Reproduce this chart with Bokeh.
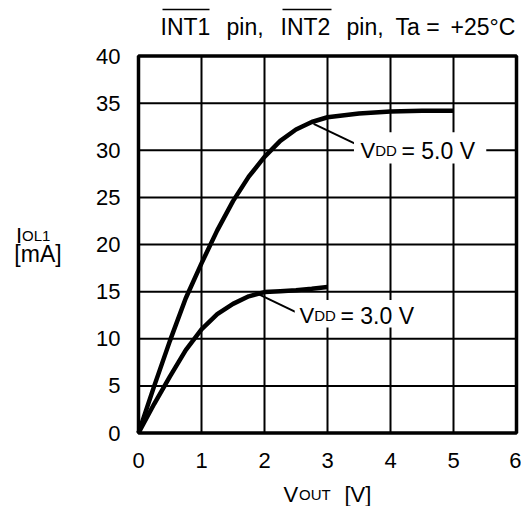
from bokeh.plotting import figure
from bokeh.models import Label, Range1d, FixedTicker
from bokeh.embed import file_html
from bokeh.resources import INLINE

# ---- data ----
vout_5v = [0, 0.25, 0.5, 0.75, 1.0, 1.25, 1.5, 1.75, 2.0, 2.25, 2.5, 2.75, 3.0, 3.5, 4.0, 4.5, 5.0]
iol_5v = [0, 5.0, 9.8, 14.3, 18.0, 21.5, 24.6, 27.2, 29.3, 31.0, 32.2, 33.0, 33.5, 33.9, 34.1, 34.2, 34.2]
vout_3v = [0, 0.25, 0.5, 0.75, 1.0, 1.25, 1.5, 1.75, 2.0, 2.25, 2.5, 2.75, 3.0]
iol_3v = [0, 3.1, 6.0, 8.8, 11.0, 12.6, 13.7, 14.5, 14.95, 15.05, 15.15, 15.3, 15.5]
x_ticks = [0, 1, 2, 3, 4, 5, 6]
y_ticks = [0, 5, 10, 15, 20, 25, 30, 35, 40]

FONT = "Liberation Sans"
BIG = "22px"
SMALL = "15px"

# canvas / placement (page pixels; the page has no margin around the canvas)
W, H = 521, 506
PX0, PXU = 138.0, 63.0      # page x of x=0, px per volt
PY0, PYU = 432.5, 9.425     # page y of y=0, px per mA
BASE_FIX = 6                # label baseline correction (px, upward)


def dx(px):
    return (px - PX0) / PXU


def dy(py):
    return (PY0 - py) / PYU


def dyb(py):
    # data y for a text baseline at page y
    return (PY0 - (py - BASE_FIX)) / PYU


p = figure(frame_width=W, frame_height=H, min_border=0, min_border_left=0, min_border_right=0,
           min_border_top=0, min_border_bottom=0, output_backend="svg", toolbar_location=None,
           x_range=Range1d(dx(0), dx(W)), y_range=Range1d(dy(H), dy(0)))
p.background_fill_color = "white"
p.border_fill_color = "white"
p.outline_line_color = None
p.grid.visible = False

# axes drawn at the data origin (inside the canvas-wide frame)
p.xaxis.fixed_location = 0
p.yaxis.fixed_location = 0
for ax in (p.xaxis, p.yaxis):
    ax.axis_line_color = None
    ax.major_tick_line_color = None
    ax.minor_tick_line_color = None
    ax.major_label_text_font = FONT
    ax.major_label_text_font_size = BIG
    ax.major_label_text_color = "black"
p.yaxis.major_label_standoff = 12
p.xaxis.major_label_standoff = 14
p.xaxis.ticker = FixedTicker(ticks=x_ticks)
p.yaxis.ticker = FixedTicker(ticks=y_ticks)

xmin, xmax = x_ticks[0], x_ticks[-1]
ymin, ymax = y_ticks[0], y_ticks[-1]

# grid lines from the tick lists
p.segment(x0=x_ticks, y0=[ymin] * len(x_ticks), x1=x_ticks, y1=[ymax] * len(x_ticks),
          line_color="black", line_width=2)
p.segment(x0=[xmin] * len(y_ticks), y0=y_ticks, x1=[xmax] * len(y_ticks), y1=y_ticks,
          line_color="black", line_width=2)

# curves
p.line(vout_5v, iol_5v, line_color="black", line_width=4.5)
p.line(vout_3v, iol_3v, line_color="black", line_width=4.5)

# plot box
p.quad(left=[xmin], right=[xmax], bottom=[ymin], top=[ymax], fill_color=None,
       line_color="black", line_width=3.5)

# leader lines
p.line([2.78, 3.47], [32.8, 30.6], line_color="black", line_width=2)
p.line([1.87, 2.54], [14.85, 12.7], line_color="black", line_width=2)

# white boxes behind in-plot labels
p.quad(left=[3.42, 2.48], right=[5.52, 4.6], bottom=[28.6, 11.2], top=[31.9, 14.1],
       fill_color="white", line_color=None)


def multi(x, y, parts, align="left"):
    for txt, size, off in parts:
        p.add_layout(Label(x=x, y=y, text=txt, text_font=FONT, text_font_size=size,
                           text_color="black", text_baseline="alphabetic",
                           text_align=align, x_offset=off))


# in-plot labels (baselines at page y ~156 and ~320)
multi(dx(360), dyb(156), [("V", BIG, 0), ("DD", SMALL, 14.7), ("= 5.0 V", "23px", 41)])
multi(dx(299), dyb(321), [("V", BIG, 0), ("DD", SMALL, 14.7), ("= 3.0 V", "23px", 41)])

# y-axis title
multi(dx(15.5), dyb(241), [("I", BIG, 0), ("OL1", SMALL, 6.1)])
multi(dx(37.5), dyb(259), [("[mA]", "23px", 0)], align="center")

# x-axis title
multi(dx(283), dyb(500), [("V", BIG, 0), ("OUT", SMALL, 15.5), ("[V]", BIG, 61)])

# chart title
for tx, txt in [(160, "INT1"), (226, "pin,"), (280, "INT2"), (346, "pin,"), (395, "Ta ="),
                (450, "+25°C")]:
    p.add_layout(Label(x=dx(tx), y=dyb(32), text=txt, text_font=FONT, text_font_size="23px",
                       text_color="black", text_baseline="alphabetic", text_align="left"))
# overlines on INT1 / INT2
p.segment(x0=[dx(162), dx(282)], y0=[dy(9)] * 2, x1=[dx(209), dx(331)], y1=[dy(9)] * 2,
          line_color="black", line_width=1.5)

open("out.html", "w").write(file_html(p, INLINE))
